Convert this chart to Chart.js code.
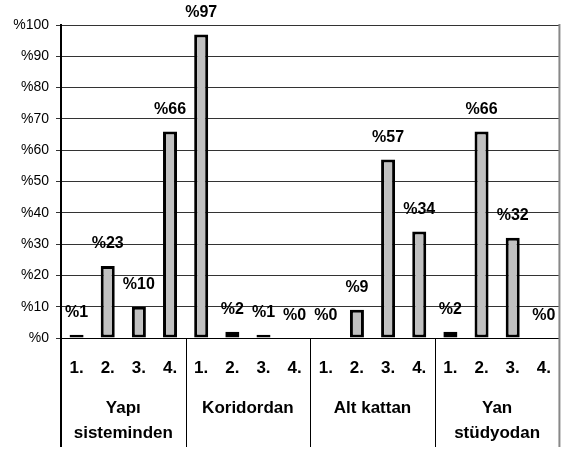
<!DOCTYPE html>
<html>
<head>
<meta charset="utf-8">
<script src="https://cdn.jsdelivr.net/npm/chart.js@4.4.1/dist/chart.umd.min.js"></script>
<style>
  body { margin: 0; background: #fff; }
  #wrap { width: 571px; height: 451px; position: relative; }
</style>
</head>
<body>
<div id="wrap"><canvas id="barChart"></canvas></div>
<script>
const groupNames = [['Yapı', 'sisteminden'], ['Koridordan'], ['Alt kattan'], ['Yan', 'stüdyodan']];
const subLabels = ['1.', '2.', '3.', '4.'];
const yapiSisteminden = [1, 23, 10, 66];
const koridordan = [97, 2, 1, 0];
const altKattan = [0, 9, 57, 34];
const yanStudyodan = [2, 66, 32, 0];
const yMin = 0, yMax = 100, yStep = 10;

const font = "'Liberation Sans', Arial, sans-serif";

// flatten groups into the 16 category slots
const groupValues = [yapiSisteminden, koridordan, altKattan, yanStudyodan];
const labels = [];
const values = [];
groupValues.forEach((vals) => {
    vals.forEach((v, i) => {
        labels.push(subLabels[i]);
        values.push(v);
    });
});

// ............ value labels above each bar ............
const valueLabels = {
    id: 'valueLabels',
    afterDatasetsDraw(chart) {
        const ctx = chart.ctx;
        const meta = chart.getDatasetMeta(0);
        ctx.save();
        ctx.font = 'bold 16px ' + font;
        ctx.fillStyle = '#000';
        ctx.textAlign = 'center';
        ctx.textBaseline = 'middle';
        meta.data.forEach((bar, i) => {
            ctx.fillText('%' + values[i], bar.x, bar.y - 22);
        });
        ctx.restore();
    }
};

// ............ group row + separators under the axis ............
const groupAxis = {
    id: 'groupAxis',
    afterDraw(chart) {
        const ctx = chart.ctx;
        const area = chart.chartArea;
        const x = chart.scales.x;
        const bottom = 447;
        const w = (area.right - area.left) / groupNames.length;
        ctx.save();
        // separators
        ctx.strokeStyle = '#000';
        ctx.lineWidth = 1;
        for (let g = 1; g < groupNames.length; g++) {
            const px = Math.round(area.left + g * w) + 0.5;
            ctx.beginPath();
            ctx.moveTo(px, area.bottom);
            ctx.lineTo(px, bottom);
            ctx.stroke();
        }
        // left axis continues down
        ctx.lineWidth = 2;
        ctx.beginPath();
        ctx.moveTo(area.left, area.bottom);
        ctx.lineTo(area.left, bottom);
        ctx.stroke();
        // right border
        ctx.strokeStyle = '#888';
        ctx.lineWidth = 2;
        ctx.beginPath();
        ctx.moveTo(area.right, area.top - 1);
        ctx.lineTo(area.right, bottom);
        ctx.stroke();
        // group names
        ctx.fillStyle = '#000';
        ctx.font = 'bold 17px ' + font;
        ctx.textAlign = 'center';
        ctx.textBaseline = 'middle';
        groupNames.forEach((lines, g) => {
            const cx = (x.getPixelForValue(g * 4) + x.getPixelForValue(g * 4 + 3)) / 2;
            lines.forEach((line, j) => {
                ctx.fillText(line, cx, 408 + j * 25);
            });
        });
        ctx.restore();
    }
};

const chartElement = document.getElementById('barChart').getContext('2d');
const chart = new Chart(chartElement, {
    type: 'bar',
    data: {
        labels: labels,
        datasets: [{
            data: values,
            backgroundColor: '#c0c0c0',
            borderColor: '#000',
            borderWidth: (c) => (c.raw === 0 ? 0 : 3),
            borderSkipped: false,
            barPercentage: 0.45,
            categoryPercentage: 1
        }]
    },
    options: {
        responsive: true,
        maintainAspectRatio: false,
        animation: false,
        events: [],
        layout: { padding: { top: 25, right: 2, left: 0, bottom: 0 } },
        plugins: {
            legend: { display: false },
            tooltip: { enabled: false }
        },
        scales: {
            x: {
                grid: { display: false, drawTicks: false },
                border: { display: true, color: '#000', width: 1 },
                ticks: {
                    color: '#000',
                    padding: 20,
                    maxRotation: 0,
                    autoSkip: false,
                    font: { family: font, size: 17, weight: 'bold' }
                },
                afterFit: (scale) => { scale.height = 113; }
            },
            y: {
                min: yMin,
                max: yMax,
                grid: { color: '#333', lineWidth: 1, tickLength: 5 },
                border: { color: '#000', width: 2 },
                ticks: {
                    stepSize: yStep,
                    color: '#000',
                    padding: 7,
                    font: { family: font, size: 14 },
                    callback: (v) => '%' + v
                },
                afterFit: (scale) => { scale.width = 61; }
            }
        }
    },
    plugins: [valueLabels, groupAxis]
});
</script>
</body>
</html>
